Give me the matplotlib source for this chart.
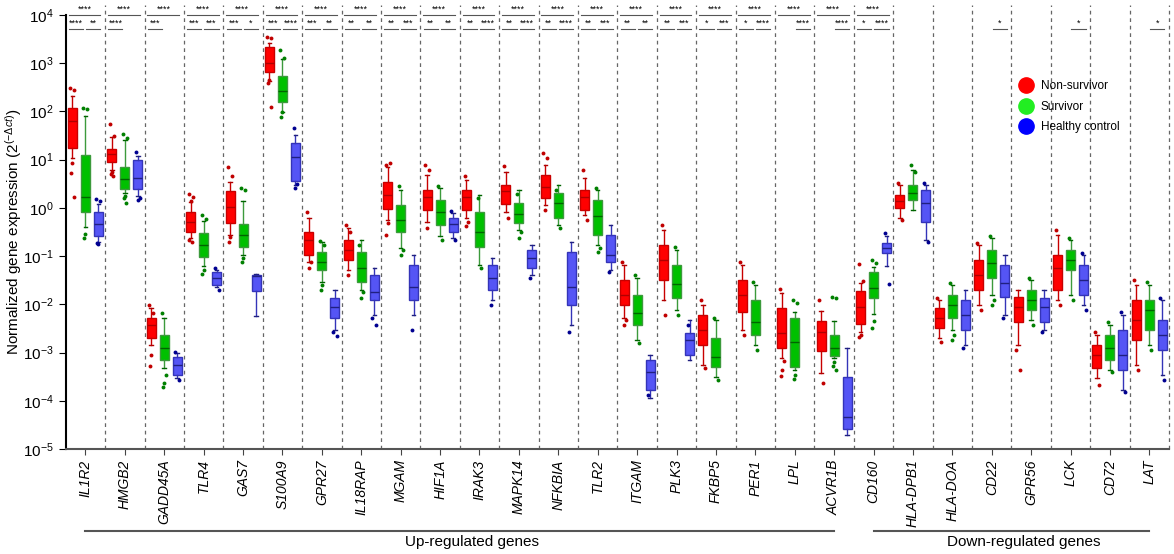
import numpy as np
import matplotlib
matplotlib.use('Agg')
import matplotlib.pyplot as plt
from matplotlib.lines import Line2D
from matplotlib import transforms

plt.rcParams['font.family'] = ['Liberation Sans', 'DejaVu Sans']
plt.rcParams['mathtext.fontset'] = 'custom'
plt.rcParams['mathtext.rm'] = 'Liberation Sans'
plt.rcParams['mathtext.it'] = 'Liberation Sans:italic'

genes = ['IL1R2', 'HMGB2', 'GADD45A', 'TLR4', 'GAS7', 'S100A9', 'GPR27', 'IL18RAP',
         'MGAM', 'HIF1A', 'IRAK3', 'MAPK14', 'NFKBIA', 'TLR2', 'ITGAM', 'PLK3',
         'FKBP5', 'PER1', 'LPL', 'ACVR1B',
         'CD160', 'HLA-DPB1', 'HLA-DOA', 'CD22', 'GPR56', 'LCK', 'CD72', 'LAT']
n_up = 20

# box statistics, log10(2^-dct): whisker low, q1, median, q3, whisker high
ns_lo = [1.03, 0.78, -2.85, -0.63, -0.56, 2.63, -1.12, -1.29, -0.25, -0.29, -0.21, -0.09, 0.06, -0.15,
         -2.29, -1.91, -3.26, -2.54, -3.12, -3.43, -2.58, -0.21, -2.70, -2.02, -2.85, -1.91, -3.53, -3.26]
ns_q1 = [1.24, 0.95, -2.70, -0.50, -0.32, 2.82, -0.98, -1.08, -0.02, -0.05, -0.05, 0.08, 0.20, -0.05,
         -2.02, -1.50, -2.85, -2.16, -2.91, -2.97, -2.41, 0.00, -2.49, -1.71, -2.37, -1.71, -3.32, -2.74]
ns_med = [1.80, 1.12, -2.43, -0.29, 0.02, 3.00, -0.67, -0.88, 0.27, 0.22, 0.22, 0.35, 0.43, 0.22,
          -1.81, -1.08, -2.54, -1.81, -2.60, -2.58, -2.06, 0.14, -2.29, -1.39, -2.06, -1.25, -3.05, -2.33]
ns_q3 = [2.07, 1.22, -2.29, -0.09, 0.35, 3.34, -0.50, -0.67, 0.54, 0.37, 0.37, 0.47, 0.68, 0.37,
         -1.50, -0.77, -2.22, -1.50, -2.08, -2.35, -1.73, 0.27, -2.08, -1.08, -1.85, -0.98, -2.85, -1.91]
ns_hi = [2.32, 1.47, -2.08, 0.12, 0.54, 3.42, -0.21, -0.42, 0.85, 0.68, 0.58, 0.74, 0.89, 0.62,
         -1.19, -0.46, -2.02, -1.19, -1.77, -2.14, -1.56, 0.47, -1.91, -0.77, -1.71, -0.56, -2.64, -1.60]
ns_pts = [[2.49, 2.44, 0.93, 0.72, 0.22], [1.74, 1.49, 0.74, 0.70, 0.66], [-2.02, -2.19, -3.05, -3.28],
          [0.29, 0.22, 0.14, -0.67, -0.71], [0.85, 0.66, -0.61, -0.71], [3.54, 3.52, 2.65, 2.59, 2.09],
          [-0.09, -1.12, -1.25], [-0.36, -0.50, -1.39], [0.89, 0.93, -0.32, -0.56], [0.89, 0.78, -0.42],
          [0.66, -0.29, -0.38], [0.87, -0.21], [1.14, 1.03, -0.05], [0.78, -0.25],
          [-1.12, -2.33, -2.43], [-0.36, -2.22], [-1.91, -3.32], [-1.12, -2.64],
          [-1.68, -3.18, -3.37, -3.49], [-1.91, -3.63], [-1.17, -1.52, -2.64, -2.68], [0.51, -0.25],
          [-1.87, -2.78], [-0.73, -2.12], [-2.95, -3.37], [-0.46, -2.02], [-2.58, -3.68], [-1.50, -3.37]]

sv_lo = [-0.40, 0.31, -3.32, -1.21, -0.98, 1.99, -1.54, -1.71, -0.83, -0.59, -1.19, -0.46, -0.36, -0.77,
         -2.74, -2.12, -3.51, -2.85, -3.37, -3.12, -2.20, -0.05, -2.54, -1.81, -2.33, -1.81, -3.37, -2.85]
sv_q1 = [-0.09, 0.39, -3.16, -1.02, -0.81, 2.20, -1.29, -1.54, -0.50, -0.36, -0.81, -0.32, -0.21, -0.56,
         -2.43, -1.87, -3.30, -2.64, -3.30, -3.07, -1.87, 0.16, -2.29, -1.46, -2.12, -1.29, -3.16, -2.54]
sv_med = [0.22, 0.60, -2.91, -0.77, -0.56, 2.42, -1.12, -1.25, -0.25, -0.09, -0.50, -0.13, 0.10, -0.17,
          -2.18, -1.58, -3.10, -2.37, -2.78, -2.91, -1.66, 0.31, -2.02, -1.15, -1.91, -1.08, -2.91, -2.12]
sv_q3 = [1.10, 0.85, -2.64, -0.52, -0.34, 2.73, -0.92, -0.92, 0.06, 0.16, -0.09, 0.10, 0.31, 0.16,
         -1.81, -1.19, -2.70, -1.91, -2.29, -2.64, -1.33, 0.47, -1.81, -0.88, -1.71, -0.88, -2.64, -1.91]
sv_hi = [1.90, 1.41, -2.29, -0.27, 0.14, 3.09, -0.71, -0.67, 0.37, 0.41, 0.27, 0.37, 0.47, 0.37,
         -1.46, -0.88, -2.33, -1.60, -2.16, -2.35, -1.23, 0.78, -1.60, -0.63, -1.50, -0.67, -2.43, -1.60]
sv_pts = [[2.07, 2.05, -0.54, -0.63], [1.53, 1.45, 0.24, 0.20, 0.10], [-2.19, -3.47, -3.63, -3.72],
          [-0.15, -0.23, -1.29, -1.37], [0.41, 0.37, -1.04, -1.12], [3.27, 3.11, 1.99, 1.88],
          [-0.69, -0.77, -1.60, -1.71], [-0.77, -1.75, -1.87], [0.45, -0.88, -0.98], [0.45, -0.67],
          [0.20, -1.25], [0.29, -0.50, -0.63], [0.37, -0.42], [0.41, -0.83, -0.92],
          [-1.39, -2.80], [-0.81, -2.22], [-2.29, -3.57], [-1.54, -2.95],
          [-1.91, -1.98, -3.47, -3.55], [-1.85, -1.87, -3.20, -3.28, -3.37], [-1.08, -1.15, -2.35, -2.49],
          [0.89, 0.74], [-1.56, -2.64, -2.74], [-0.59, -1.91, -2.02], [-1.46, -2.43], [-0.63, -1.91],
          [-2.37, -3.41], [-1.54, -2.95]]

hc_lo = [-0.71, 0.24, -3.53, -1.64, -2.24, 0.47, -2.54, -2.22, -2.22, -0.63, -1.91, -1.39, -2.43, -1.29,
         -3.95, -3.16, None, None, None, -4.71, -1.21, -0.67, -2.85, -2.22, -2.54, -2.02, -3.78, -3.47]
hc_q1 = [-0.59, 0.39, -3.47, -1.60, -1.73, 0.56, -2.29, -1.91, -1.91, -0.50, -1.71, -1.25, -2.02, -1.12,
         -3.78, -3.05, None, None, None, -4.59, -0.94, -0.29, -2.54, -1.85, -2.37, -1.81, -3.37, -2.95]
hc_med = [-0.34, 0.62, -3.26, -1.46, -1.41, 1.05, -2.06, -1.75, -1.64, -0.34, -1.46, -1.04, -1.64, -0.98,
          -3.41, -2.74, None, None, None, -4.34, -0.83, 0.10, -2.22, -1.56, -2.06, -1.50, -3.05, -2.64]
hc_q3 = [-0.09, 0.99, -3.10, -1.33, -1.39, 1.34, -1.87, -1.39, -1.19, -0.21, -1.19, -0.88, -0.92, -0.56,
         -3.16, -2.60, None, None, None, -3.51, -0.73, 0.37, -1.91, -1.19, -1.87, -1.19, -2.54, -2.33]
hc_hi = [0.08, 1.07, -3.01, -1.29, -1.37, 1.51, -1.71, -1.25, -0.98, -0.11, -1.04, -0.77, -0.71, -0.36,
         -3.05, -2.33, None, None, None, -2.91, -0.59, 0.47, -1.71, -0.98, -1.71, -0.98, -2.22, -1.91]
hc_pts = [[0.18, 0.14, -0.75, -0.73], [1.16, 0.20, 0.16], [-2.99, -3.57], [-1.25, -1.71], [],
          [1.66, 0.49, 0.41], [-2.58, -2.66], [-2.29, -2.43], [-2.54], [-0.07, -0.67], [-2.02], [-1.46],
          [-2.58], [-1.33], [-3.88], [-2.43], [], [], [], [], [-0.52, -1.58], [0.51, -0.71], [-2.91],
          [-2.29], [-2.58], [-0.94, -2.12], [-2.16, -3.82], [-1.87, -3.57]]

# significance marks: non-survivor vs healthy (top), non-survivor vs survivor (left), survivor vs healthy (right)
sig_top = ['****'] * 21 + [''] * 7
sig_left = ['****', '****', '***', '***', '***', '***', '***', '**', '**', '**', '**', '**', '**', '**',
            '**', '**', '*', '*', '', '', '*', '', '', '', '', '', '', '']
sig_right = ['**', '', '', '***', '*', '****', '**', '**', '***', '**', '****', '****', '****', '***',
             '**', '***', '***', '****', '****', '****', '****', '', '', '*', '', '*', '', '*']

groups = [
    ('Non-survivor', ns_lo, ns_q1, ns_med, ns_q3, ns_hi, ns_pts,
     '#ff0000', '#c80000', '#b00000', '#c00000', '#ff0000', -0.33),
    ('Survivor', sv_lo, sv_q1, sv_med, sv_q3, sv_hi, sv_pts,
     '#00c000', '#3c9a3c', '#006400', '#008000', '#22ee22', 0.0),
    ('Healthy control', hc_lo, hc_q1, hc_med, hc_q3, hc_hi, hc_pts,
     '#5555f5', '#3434b8', '#202080', '#000090', '#0000ff', 0.33),
]

fig = plt.figure(figsize=(11.74, 5.54), dpi=100)
ax = fig.add_axes([0.056, 0.1895, 0.9398, 0.7835])
ax.set_yscale('log')
ax.set_ylim(1e-5, 1e4)
ax.set_xlim(-0.5, len(genes) - 0.5)

jit = [-0.05, 0.05, 0.0, -0.03, 0.04]
handles = []
for name, lo, q1, med, q3, hi, pts, fc, ec, mc, pc, lc, off in groups:
    stats, pos = [], []
    for i in range(len(genes)):
        if med[i] is None:
            continue
        stats.append(dict(whislo=10 ** lo[i], q1=10 ** q1[i], med=10 ** med[i],
                          q3=10 ** q3[i], whishi=10 ** hi[i], fliers=[]))
        pos.append(i + off)
    ax.bxp(stats, positions=pos, widths=0.23, patch_artist=True, showfliers=False,
           boxprops=dict(facecolor=fc, edgecolor=ec, linewidth=1),
           medianprops=dict(color=mc, linewidth=1),
           whiskerprops=dict(color=ec, linewidth=1),
           capprops=dict(color=mc, linewidth=1), capwidths=0.09, manage_ticks=False)
    for i, p in enumerate(pts):
        for k, v in enumerate(p):
            ax.plot(i + off + jit[k % len(jit)], 10 ** v, 'o', ms=2.8, color=pc, mec='none')
    handles.append(Line2D([], [], marker='o', ls='none', ms=11, color=lc, label=name))

# separators
for i in range(len(genes)):
    ax.plot([i + 0.5, i + 0.5], [1e-5, 1.6e4], ls=(0, (3, 3)), color='#666666', lw=0.9,
            clip_on=False, zorder=0)

# significance brackets
for i in range(len(genes)):
    if sig_top[i]:
        ax.plot([i - 0.43, i + 0.38], [1e4, 1e4], color='#555555', lw=0.8, clip_on=False)
        ax.text(i - 0.02, 1.05e4, sig_top[i], ha='center', va='bottom', fontsize=6.5, clip_on=False)
    if sig_left[i]:
        ax.plot([i - 0.42, i - 0.06], [5.2e3, 5.2e3], color='#555555', lw=0.8)
        ax.text(i - 0.24, 5.4e3, sig_left[i], ha='center', va='bottom', fontsize=6.5)
    if sig_right[i]:
        ax.plot([i + 0.02, i + 0.38], [5.2e3, 5.2e3], color='#555555', lw=0.8)
        ax.text(i + 0.2, 5.4e3, sig_right[i], ha='center', va='bottom', fontsize=6.5)

ax.set_xticks(range(len(genes)))
ax.set_xticklabels(genes, rotation=90, fontstyle='italic', fontsize=10)
ax.tick_params(axis='x', length=4, color='#444444')
ax.tick_params(axis='y', which='major', labelsize=11, length=5)
ax.tick_params(axis='y', which='minor', left=False)
ax.set_yticks([10.0 ** k for k in range(-5, 5)])
ax.spines['top'].set_visible(False)
ax.spines['right'].set_visible(False)
ax.spines['left'].set_linewidth(1.5)
ax.spines['bottom'].set_color('#555555')
ax.spines['bottom'].set_linewidth(1.5)
ax.set_ylabel('Normalized gene expression (2$^{(-\\Delta ct)}$)', fontsize=11)
ax.yaxis.set_label_coords(-0.038, 0.5)

leg = ax.legend(handles=handles, loc='upper left', bbox_to_anchor=(0.855, 0.86), frameon=False,
                fontsize=8.5, handletextpad=0.3, labelspacing=0.7, borderaxespad=0)

# gene group annotations below the axis
tr = transforms.blended_transform_factory(ax.transData, fig.transFigure)
for a, b, label in [(0, n_up - 1, 'Up-regulated genes'), (n_up, len(genes) - 1, 'Down-regulated genes')]:
    ax.plot([a, b], [0.0415, 0.0415], color='#555555', lw=1.5, transform=tr, clip_on=False)
    ax.text((a + b) / 2 + 0.3, 0.022, label, ha='center', va='center', fontsize=11, transform=tr)

fig.savefig('out.png', dpi=100)
